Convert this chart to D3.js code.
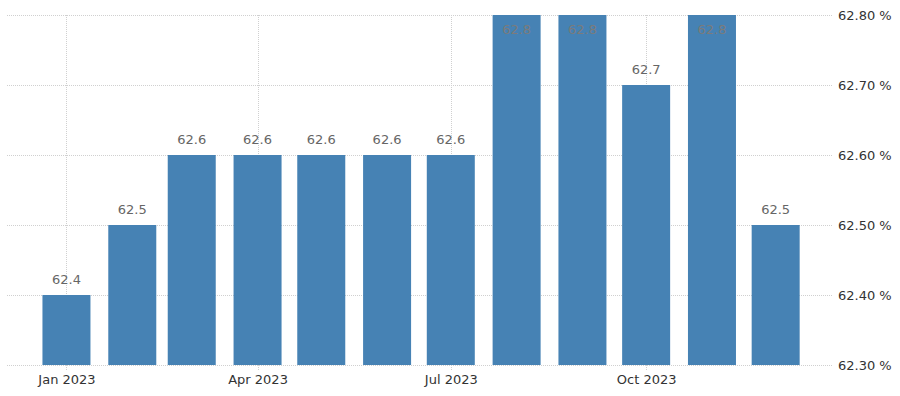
<!DOCTYPE html>
<html>
<head>
<meta charset="utf-8">
<script src="https://cdn.jsdelivr.net/npm/d3@7"></script>
<style>
  body { margin: 0; background: #fff; }
  svg { display: block; font-family: Tahoma, "DejaVu Sans", sans-serif; }
</style>
</head>
<body>
<svg id="chart" width="900" height="396"></svg>
<script>
// monthly values, 2023
var months = ["2023-01-01", "2023-02-01", "2023-03-01", "2023-04-01", "2023-05-01", "2023-06-01",
              "2023-07-01", "2023-08-01", "2023-09-01", "2023-10-01", "2023-11-01", "2023-12-01"];
var values = [62.4, 62.5, 62.6, 62.6, 62.6, 62.6, 62.6, 62.8, 62.8, 62.7, 62.8, 62.5];
var yTicks = [62.3, 62.4, 62.5, 62.6, 62.7, 62.8];
var xTicks = ["2023-01-01", "2023-04-01", "2023-07-01", "2023-10-01"];

var margin = {top: 15, right: 67, bottom: 31, left: 7},
    width = 900 - margin.left - margin.right,
    height = 396 - margin.top - margin.bottom;

var parse = d3.timeParse("%Y-%m-%d");
var data = months.map(function(m, i) {
    return {date: parse(m), value: values[i]};
});

var svg = d3.select("#chart");
var g = svg.append("g").attr("transform", "translate(" + margin.left + "," + margin.top + ")");

var x = d3.scaleTime()
    .domain([parse("2022-12-04"), parse("2023-12-28")])
    .range([0, width]);

var y = d3.scaleLinear()
    .domain([62.3, 62.8])
    .range([height, 0]);

var barW = 48;

// horizontal grid
g.selectAll("line.hgrid")
    .data(yTicks)
    .enter()
    .append("line")
    .attr("class", "hgrid")
    .attr("x1", 0)
    .attr("x2", width)
    .attr("y1", function(d) { return Math.round(y(d)) + 0.5; })
    .attr("y2", function(d) { return Math.round(y(d)) + 0.5; })
    .style("stroke", "#d0d0d0")
    .style("stroke-dasharray", "1,1");

// vertical grid at tick months
g.selectAll("line.vgrid")
    .data(xTicks)
    .enter()
    .append("line")
    .attr("class", "vgrid")
    .attr("x1", function(d) { return Math.round(x(parse(d))) + 0.5; })
    .attr("x2", function(d) { return Math.round(x(parse(d))) + 0.5; })
    .attr("y1", 0)
    .attr("y2", height + 5)
    .style("stroke", "#d0d0d0")
    .style("stroke-dasharray", "1,1");

// bars
g.selectAll("rect.bar")
    .data(data)
    .enter()
    .append("rect")
    .attr("class", "bar")
    .attr("x", function(d) { return x(d.date) - barW / 2; })
    .attr("width", barW)
    .attr("y", function(d) { return y(d.value); })
    .attr("height", function(d) { return height - y(d.value); })
    .style("fill", "#4682b4");

// value labels
g.selectAll("text.val")
    .data(data)
    .enter()
    .append("text")
    .attr("class", "val")
    .attr("x", function(d) { return x(d.date); })
    .attr("y", function(d) { return Math.max(y(d.value) - 11, 19); })
    .attr("text-anchor", "middle")
    .style("font-size", "13px")
    .style("fill", function(d) { return y(d.value) - 11 < 19 ? "#7b7b7b" : "#666"; })
    .text(function(d) { return d3.format(".1f")(d.value); });

// y axis labels on the right
var yAxis = d3.axisRight(y)
    .tickValues(yTicks)
    .tickSize(0)
    .tickPadding(5)
    .tickFormat(function(d) { return d3.format(".2f")(d) + " %"; });

g.append("g")
    .attr("transform", "translate(" + width + ",0)")
    .call(yAxis)
    .call(function(a) { a.select(".domain").remove(); })
    .selectAll("text")
    .style("font-size", "13px")
    .style("fill", "#333")
    .style("font-family", "Tahoma, 'DejaVu Sans', sans-serif");

// x axis labels
var xAxis = d3.axisBottom(x)
    .tickValues(xTicks.map(parse))
    .tickSize(0)
    .tickPadding(10)
    .tickFormat(d3.timeFormat("%b %Y"));

g.append("g")
    .attr("transform", "translate(0," + height + ")")
    .call(xAxis)
    .call(function(a) { a.select(".domain").remove(); })
    .selectAll("text")
    .style("font-size", "13px")
    .style("fill", "#333")
    .style("font-family", "Tahoma, 'DejaVu Sans', sans-serif");
</script>
</body>
</html>
